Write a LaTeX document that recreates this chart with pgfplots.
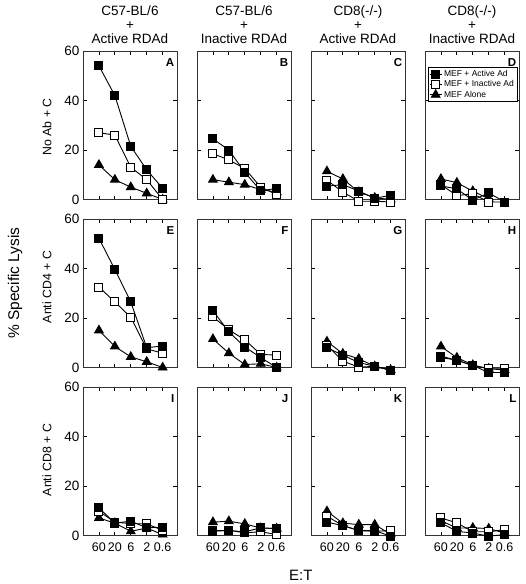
\documentclass[border=0pt]{standalone}
\usepackage{pgfplots}
\pgfplotsset{compat=1.18}
\usepackage{fontspec}
\setmainfont{Liberation Sans}
\setsansfont{Liberation Sans}

\pgfplotsset{
  panel/.style={
    scale only axis, width=94pt, height=148.5pt,
    xmin=-1, xmax=4.9, ymin=0, ymax=60,
    xtick={0,1,2,3,4}, ytick={0,20,40,60},
    tick align=inside, major tick length=4pt,
    xticklabels={},
    clip=false,
    axis line style={line width=0.9pt, black!80},
    tick style={line width=0.8pt, black},
    tick label style={font=\fontsize{13.5}{14}\selectfont},
    /pgf/number format/assume math mode=true,
    anchor=north west,
  },
  noy/.style={yticklabels={}},
  xlab/.style={xticklabels={60,20,6,2,0.6},
    xticklabel style={font=\fontsize{12.5}{13}\selectfont, anchor=north, text height=9pt, text depth=0pt, yshift=-3pt}},
  filled/.style={black, line width=0.9pt, mark=square*, mark size=4pt, mark options={solid, fill=black}},
  open/.style={black, line width=0.9pt, mark=square*, mark size=4pt, mark options={solid, fill=white}},
  tri/.style={black, line width=0.9pt, mark=triangle*, mark size=5pt, mark options={solid, fill=black}},
}

\newcommand{\panel}[6]{%
  \begin{axis}[panel, at={#1}, #2]
    \addplot[tri] coordinates {#6};
    \addplot[open] coordinates {#5};
    \addplot[filled] coordinates {#4};
    \node[anchor=north east, font=\bfseries\fontsize{11.5}{12}\selectfont, inner sep=0pt]
      at (rel axis cs:1,1) [xshift=-2.5pt, yshift=-7pt] {#3};
  \end{axis}}

\begin{document}
\begin{tikzpicture}
\useasboundingbox (0,0) rectangle (526pt,-584pt);

% Row 1
\panel{(83pt,-51pt)}{}{A}
 {(0,54) (1,42) (2,21.5) (3,12) (4,4.5)}
 {(0,27) (1,26) (2,13) (3,8) (4,0)}
 {(0,14) (1,8) (2,5) (3,2.5) (4,0)}
\panel{(197pt,-51pt)}{noy}{B}
 {(0,24.5) (1,20) (2,11) (3,3.5) (4,4.5)}
 {(0,18.5) (1,16) (2,12.5) (3,5) (4,2)}
 {(0,8) (1,7) (2,6) (3,4) (4,3)}
\panel{(311pt,-51pt)}{noy}{C}
 {(0,5.4) (1,6) (2,3.4) (3,0.5) (4,1.7)}
 {(0,7.8) (1,3) (2,-0.7) (3,-0.7) (4,-1)}
 {(0,11.4) (1,8.3) (2,3) (3,0.7) (4,0)}
\begin{axis}[panel, noy, at={(425pt,-51pt)},
  legend style={at={(0.98,0.89)}, anchor=north east, draw=black, line width=0.6pt,
    font=\fontsize{8.5}{9}\selectfont, inner sep=1pt, row sep=-1.5pt},
  legend cell align=left,
  legend image code/.code={\draw[mark repeat=2, mark phase=2] plot coordinates {(0pt,0pt) (6pt,0pt) (12pt,0pt)};}]
  \addlegendimage{filled}\addlegendentry{MEF + Active Ad}
  \addlegendimage{open}\addlegendentry{MEF + Inactive Ad}
  \addlegendimage{tri}\addlegendentry{MEF Alone}
  \addplot[tri, forget plot] coordinates {(0,8.3) (1,6.8) (2,3.4) (3,0.3)};
  \addplot[open, forget plot] coordinates {(0,6) (1,1.6) (2,2.3) (3,-1) (4,-1)};
  \addplot[filled, forget plot] coordinates {(0,5.5) (1,4.3) (2,-0.3) (3,2.7) (4,-1)};
  \node[anchor=north east, font=\bfseries\fontsize{11.5}{12}\selectfont, inner sep=0pt]
    at (rel axis cs:1,1) [xshift=-2.5pt, yshift=-7pt] {D};
\end{axis}

% Row 2
\panel{(83pt,-219pt)}{}{E}
 {(0,52.2) (1,39.6) (2,26.5) (3,8) (4,8.7)}
 {(0,32.5) (1,26.5) (2,20.3) (3,7.5) (4,5.8)}
 {(0,15) (1,8.5) (2,4.3) (3,2.3) (4,0)}
\panel{(197pt,-219pt)}{noy}{F}
 {(0,23) (1,14.4) (2,8.3) (3,4) (4,0)}
 {(0,20.5) (1,15.2) (2,11.2) (3,5.3) (4,5)}
 {(0,11.5) (1,5.8) (2,1.2) (3,1.5) (4,0)}
\panel{(311pt,-219pt)}{noy}{G}
 {(0,8) (1,5) (2,2) (3,0.5) (4,-1)}
 {(0,9) (1,2.6) (2,0.1) (3,0.5) (4,-1.2)}
 {(0,10.5) (1,5.6) (2,3.5) (3,0.5) (4,-1)}
\panel{(425pt,-219pt)}{noy}{H}
 {(0,4) (1,3) (2,0.8) (3,-2) (4,-2)}
 {(0,4.6) (1,2.9) (2,0.8) (3,-0.5) (4,-0.5)}
 {(0,8.5) (1,4) (2,1) (3,-0.5) (4,-1)}

% Row 3
\panel{(83pt,-387pt)}{xlab}{I}
 {(0,11.2) (1,5) (2,5.8) (3,3.1) (4,3.4)}
 {(0,9.8) (1,5.4) (2,4.8) (3,4.7) (4,2.1)}
 {(0,7.1) (1,5) (2,1.7) (3,3) (4,0.4)}
\panel{(197pt,-387pt)}{noy,xlab}{J}
 {(0,2) (1,2) (2,1.5) (3,3.1) (4,2.8)}
 {(0,1.7) (1,2.1) (2,1.1) (3,1.5) (4,0.4)}
 {(0,5.4) (1,5.8) (2,4.7) (3,3) (4,2.8)}
\panel{(311pt,-387pt)}{noy,xlab}{K}
 {(0,5.4) (1,4) (2,2) (3,2) (4,-0.3)}
 {(0,7.8) (1,4) (2,2) (3,1.7) (4,2)}
 {(0,9.8) (1,5) (2,4.4) (3,4.4) (4,0.5)}
\panel{(425pt,-387pt)}{noy,xlab}{L}
 {(0,5.1) (1,1.7) (2,1) (3,-0.3) (4,0.4)}
 {(0,7.1) (1,5.1) (2,1.5) (3,1.5) (4,2.4)}
 {(0,6) (1,3) (2,3.1) (3,2.8) (4,1)}

% Column titles
\begin{scope}[every node/.style={font=\fontsize{13.5}{14}\selectfont, inner sep=0pt, anchor=base}]
  \node at (130pt,-15pt) {C57-BL/6};  \node at (130pt,-29.5pt) {+}; \node at (130pt,-43pt) {Active RDAd};
  \node at (244pt,-15pt) {C57-BL/6};  \node at (244pt,-29.5pt) {+}; \node at (244pt,-43pt) {Inactive RDAd};
  \node at (358pt,-15pt) {CD8(-/-)};  \node at (358pt,-29.5pt) {+}; \node at (358pt,-43pt) {Active RDAd};
  \node at (472pt,-15pt) {CD8(-/-)};  \node at (472pt,-29.5pt) {+}; \node at (472pt,-43pt) {Inactive RDAd};
\end{scope}

% Row labels
\begin{scope}[every node/.style={font=\fontsize{12.3}{13}\selectfont, inner sep=0pt, rotate=90}]
  \node at (47pt,-127pt) {No Ab + C};
  \node at (47pt,-287pt) {Anti CD4 + C};
  \node at (47pt,-460pt) {Anti CD8 + C};
\end{scope}
\node[font=\fontsize{15.5}{16}\selectfont, inner sep=0pt, rotate=90] at (15pt,-283pt) {\% Specific Lysis};
\node[font=\fontsize{15}{16}\selectfont, inner sep=0pt, anchor=base west] at (289pt,-580pt) {E:T};
\end{tikzpicture}
\end{document}
